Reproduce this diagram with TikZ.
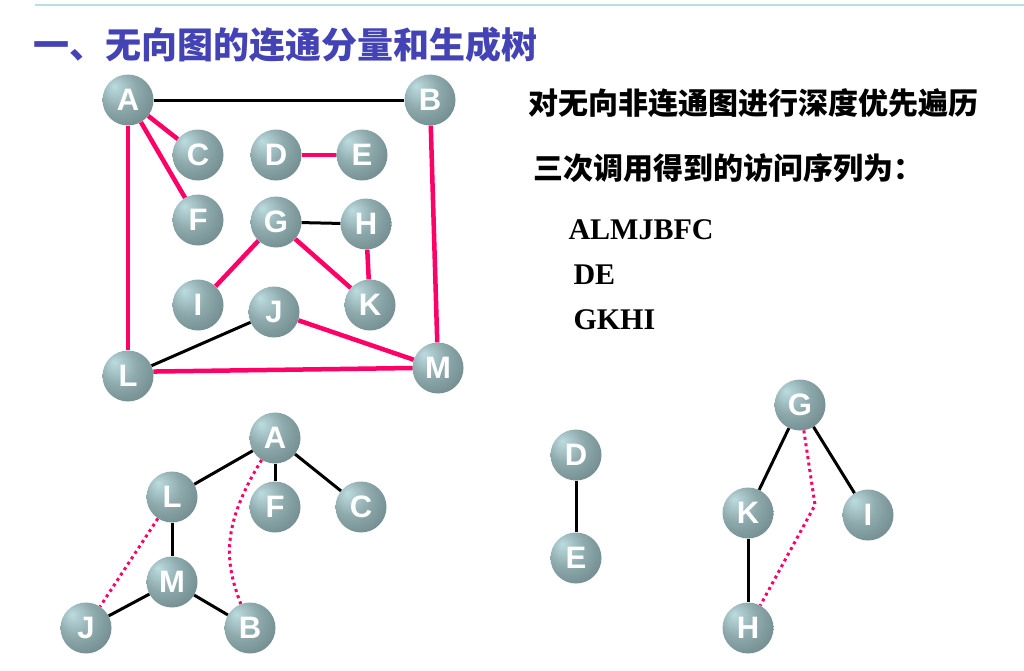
\documentclass[tikz,border=0pt]{standalone}
\usepackage{fontspec}
\setmainfont{Liberation Serif}
\newfontfamily\cjk{Noto Sans CJK SC}
\newfontfamily\ballfont{Liberation Sans}
\definecolor{ballhi}{HTML}{BCDCE0}
\definecolor{ballmid}{HTML}{8FAAAD}
\definecolor{balllo}{HTML}{5B7577}
\definecolor{treeedge}{HTML}{FF0066}
\definecolor{titleblue}{HTML}{4343B5}
\definecolor{topline}{HTML}{B4E2E2}
\pgfdeclareradialshading{vball}{\pgfpoint{-14bp}{14bp}}{color(0bp)=(ballhi); color(18bp)=(ballmid); color(48bp)=(balllo); color(60bp)=(balllo)}
\tikzset{
  vtx/.style={circle, shading=vball, minimum size=51pt, inner sep=0pt,
    text=white, font=\ballfont\bfseries\fontsize{31}{31}\selectfont},
  blackedge/.style={line width=3pt, black},
  pinkedge/.style={line width=4.5pt, treeedge},
  dotedge/.style={line width=3pt, treeedge, dash pattern=on 3pt off 3.5pt}
}
\begin{document}
\begin{tikzpicture}[x=1pt,y=-1pt]
  \useasboundingbox (0,0) rectangle (1024,670);
  \draw[topline, line width=1.5pt] (35,5) -- (1024,5);
  \path (30,45) node[anchor=west, text=titleblue, font=\cjk\bfseries\fontsize{36}{36}\selectfont] (title) {一、无向图的连通分量和生成树};

  % the graph
  \path (128,100) node[vtx] (a) {A};
  \path (430,100) node[vtx] (b) {B};
  \path (198,155) node[vtx] (c) {C};
  \path (276,155) node[vtx] (d) {D};
  \path (362,155) node[vtx] (e) {E};
  \path (198,220) node[vtx] (f) {F};
  \path (276,222) node[vtx] (g) {G};
  \path (366,224) node[vtx] (h) {H};
  \path (198,305) node[vtx] (i) {I};
  \path (274,312) node[vtx] (j) {J};
  \path (370,305) node[vtx] (k) {K};
  \path (128,376) node[vtx] (l) {L};
  \path (438,368) node[vtx] (m) {M};

  \draw[blackedge] (a) -- (b);
  \draw[blackedge] (g) -- (h);
  \draw[blackedge] (j) -- (l);
  \draw[pinkedge] (a) -- (c);
  \draw[pinkedge] (a) -- (f);
  \draw[pinkedge] (a) -- (l);
  \draw[pinkedge] (b) -- (m);
  \draw[pinkedge] (d) -- (e);
  \draw[pinkedge] (g) -- (i);
  \draw[pinkedge] (g) -- (k);
  \draw[pinkedge] (h) -- (k);
  \draw[pinkedge] (j) -- (m);
  \draw[pinkedge] (l.10) -- (m.west);

  % texts
  \path (525,103) node[anchor=west, font=\cjk\bfseries\fontsize{30}{30}\selectfont] (t1) {对无向非连通图进行深度优先遍历};
  \path (530,168) node[anchor=west, font=\cjk\bfseries\fontsize{30}{30}\selectfont] (t2) {三次调用得到的访问序列为：};
  \path (565,230) node[anchor=west, font=\bfseries\fontsize{30}{30}\selectfont] (s1) {ALMJBFC};
  \path (570,275) node[anchor=west, font=\bfseries\fontsize{30}{30}\selectfont] (s2) {DE};
  \path (570,320) node[anchor=west, font=\bfseries\fontsize{30}{30}\selectfont] (s3) {GKHI};

  % spanning forest
  \path (275,438) node[vtx] (ta) {A};
  \path (172,497) node[vtx] (tl) {L};
  \path (275,507) node[vtx] (tf) {F};
  \path (361,507) node[vtx] (tc) {C};
  \path (172,582) node[vtx] (tm) {M};
  \path (86,628) node[vtx] (tj) {J};
  \path (250,628) node[vtx] (tb) {B};
  \draw[blackedge] (ta) -- (tl);
  \draw[blackedge] (ta) -- (tf);
  \draw[blackedge] (ta) -- (tc);
  \draw[blackedge] (tl) -- (tm);
  \draw[blackedge] (tm) -- (tj);
  \draw[blackedge] (tm) -- (tb);
  \draw[dotedge] (tl) -- (tj);
  \draw[dotedge] (ta) .. controls (222,525) and (224,560) .. (tb);

  \path (576,455) node[vtx] (td) {D};
  \path (576,558) node[vtx] (te) {E};
  \draw[blackedge] (td) -- (te);

  \path (800,405) node[vtx] (tg) {G};
  \path (748,513) node[vtx] (tk) {K};
  \path (868,515) node[vtx] (ti) {I};
  \path (748,628) node[vtx] (th) {H};
  \coordinate (bend) at (815,505);
  \draw[blackedge] (tg) -- (tk);
  \draw[blackedge] (tg) -- (ti);
  \draw[blackedge] (tk) -- (th);
  \draw[dotedge] (tg) -- (bend) -- (th);
\end{tikzpicture}
\end{document}
